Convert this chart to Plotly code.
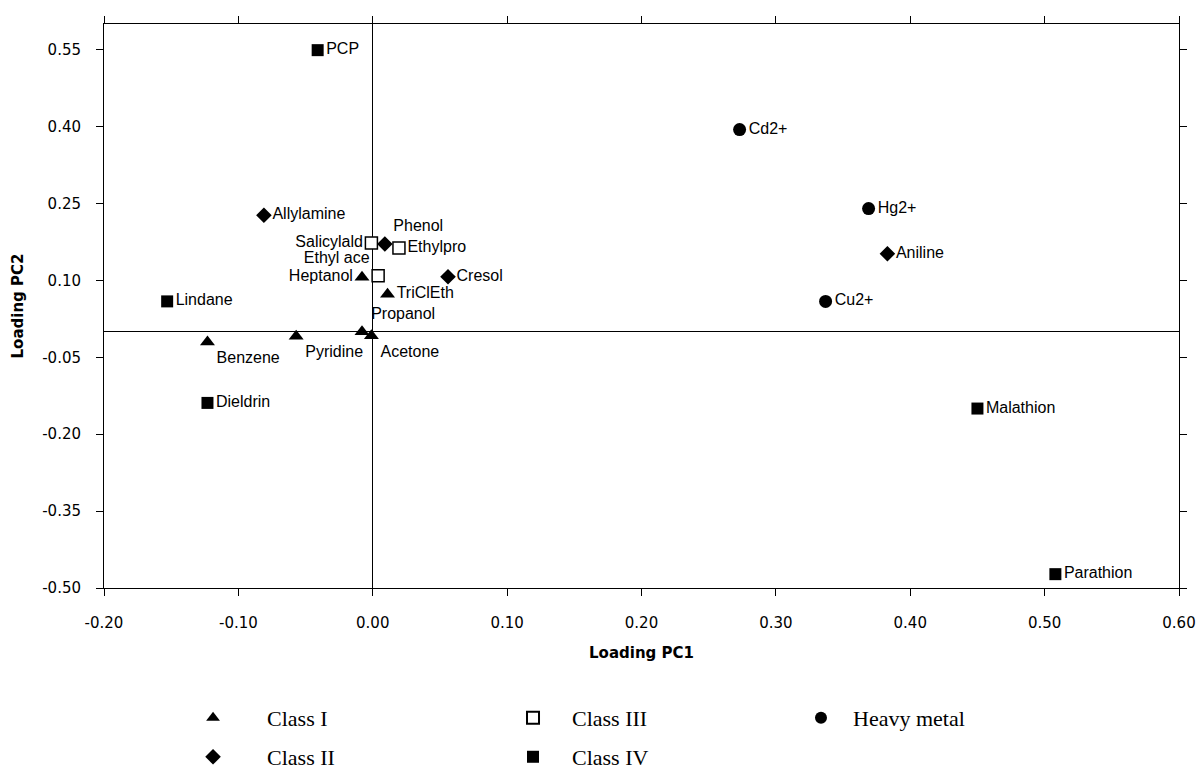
import plotly.graph_objects as go

# ---- data ----
class1_names = ["Benzene", "Pyridine", "Heptanol", "TriClEth", "Propanol", "Acetone"]
class1_pc1 = [-0.123, -0.057, -0.008, 0.011, -0.008, -0.001]
class1_pc2 = [-0.020, -0.009, 0.106, 0.073, 0.000, -0.008]

class2_names = ["Allylamine", "Phenol", "Cresol", "Aniline"]
class2_pc1 = [-0.081, 0.009, 0.056, 0.383]
class2_pc2 = [0.227, 0.171, 0.107, 0.152]

class3_names = ["Salicylald", "Ethylpro", "Ethyl ace"]
class3_pc1 = [-0.001, 0.0195, 0.004]
class3_pc2 = [0.173, 0.163, 0.109]

class4_names = ["PCP", "Lindane", "Dieldrin", "Malathion", "Parathion"]
class4_pc1 = [-0.041, -0.153, -0.123, 0.450, 0.508]
class4_pc2 = [0.549, 0.059, -0.139, -0.150, -0.473]

metal_names = ["Cd2+", "Hg2+", "Cu2+"]
metal_pc1 = [0.273, 0.369, 0.337]
metal_pc2 = [0.394, 0.240, 0.059]

x_ticks = [-0.20, -0.10, 0.00, 0.10, 0.20, 0.30, 0.40, 0.50, 0.60]
x_tick_labels = ["-0.20", "-0.10", "0.00", "0.10", "0.20", "0.30", "0.40", "0.50", "0.60"]
y_ticks = [-0.50, -0.35, -0.20, -0.05, 0.10, 0.25, 0.40, 0.55]
y_tick_labels = ["-0.50", "-0.35", "-0.20", "-0.05", "0.10", "0.25", "0.40", "0.55"]

# ---- styles ----
label_font = dict(family="Liberation Sans, Arial, sans-serif", size=16, color="black")
tick_font = dict(family="DejaVu Sans, sans-serif", size=15, color="black")
legend_font = dict(family="Liberation Serif, Times New Roman, serif", size=22, color="black")

class1_pos = ["bottom right", "bottom right", "middle left", "middle right", "top right", "bottom right"]
class2_pos = ["middle right", "top right", "middle right", "middle right"]
class3_pos = ["middle left", "middle right", "top left"]
class4_pos = ["middle right"] * 5
metal_pos = ["middle right"] * 3

fig = go.Figure()

def add(name, xs, ys, texts, pos, symbol, size, legend, fill="black", line_w=0):
    fig.add_trace(go.Scatter(
        x=xs, y=ys, text=texts, mode="markers+text", name=name,
        textposition=pos, textfont=label_font, legend=legend,
        marker=dict(symbol=symbol, size=size, color=fill,
                    line=dict(color="black", width=line_w)),
        hoverinfo="skip", cliponaxis=False,
    ))

add("Class I", class1_pc1, class1_pc2, class1_names, class1_pos, "triangle-up", 13, "legend")
add("Class II", class2_pc1, class2_pc2, class2_names, class2_pos, "diamond", 12, "legend2")
add("Class III", class3_pc1, class3_pc2, class3_names, class3_pos, "square", 12, "legend3", fill="white", line_w=1.5)
add("Class IV", class4_pc1, class4_pc2, class4_names, class4_pos, "square", 12, "legend4")
add("Heavy metal", metal_pc1, metal_pc2, metal_names, metal_pos, "circle", 13, "legend5")

def leg(x, y, iw):
    return dict(x=x, y=y, xanchor="left", yanchor="middle", orientation="v",
                font=legend_font, itemsizing="constant", itemwidth=iw,
                bgcolor="rgba(0,0,0,0)")

row1, row2 = -0.2305, -0.2996
fig.update_layout(
    width=1198, height=770,
    margin=dict(l=104, r=19, t=24, b=182, autoexpand=False),
    paper_bgcolor="white", plot_bgcolor="white",
    showlegend=True,
    legend=leg(0.0512, row1, 98),
    legend2=leg(0.0512, row2, 98),
    legend3=leg(0.3628, row1, 68),
    legend4=leg(0.3628, row2, 68),
    legend5=leg(0.6372, row1, 54),
)

fig.update_xaxes(
    range=[-0.20, 0.60], tickvals=x_ticks, ticktext=x_tick_labels, automargin=False,
    showgrid=False, zeroline=True, zerolinecolor="black", zerolinewidth=1,
    showline=True, linecolor="black", linewidth=1, mirror="ticks",
    ticks="outside", ticklen=7, tickcolor="black", tickfont=tick_font,
    ticklabelstandoff=14,
    title=dict(text="<b>Loading PC1</b>", font=dict(family="DejaVu Sans, sans-serif", size=15, color="black"), standoff=16),
)
fig.update_yaxes(
    range=[-0.50, 0.60], tickvals=y_ticks, ticktext=y_tick_labels, automargin=False,
    showgrid=False, zeroline=True, zerolinecolor="black", zerolinewidth=1,
    showline=True, linecolor="black", linewidth=1, mirror="ticks",
    ticks="outside", ticklen=7, tickcolor="black", tickfont=tick_font,
    ticklabelstandoff=12,
    title=dict(text="<b>Loading PC2</b>", font=dict(family="DejaVu Sans, sans-serif", size=15, color="black"), standoff=14),
)

# remove the browser's default 8px body margin so the figure fills the window exactly
fig.write_html(
    "out.html",
    config={"displayModeBar": False},
    post_script="document.body.style.margin='0';document.body.style.overflow='hidden';",
)
